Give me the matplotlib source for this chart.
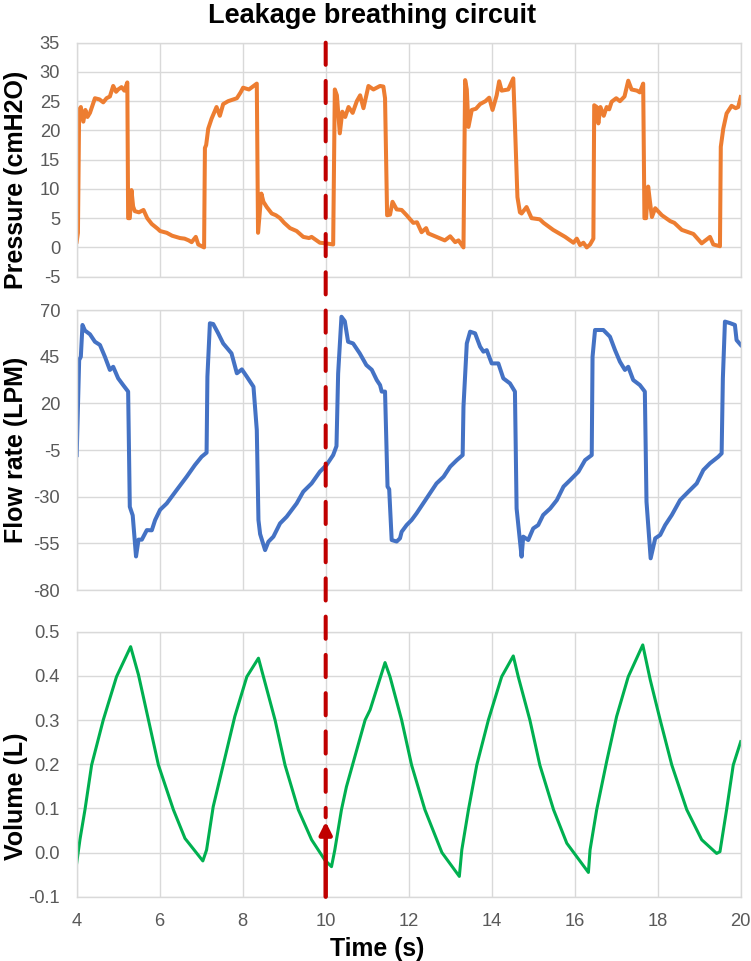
import matplotlib.pyplot as plt
from matplotlib.patches import ConnectionPatch

plt.rcParams['font.family'] = ['Liberation Sans', 'DejaVu Sans']
plt.rcParams['axes.unicode_minus'] = False

# pressure (cmH2O)
p_time = [4.00, 4.03, 4.06, 4.10, 4.16, 4.21, 4.26, 4.32, 4.44, 4.55, 4.64, 4.72, 4.80, 4.88, 4.95,
          5.00, 5.08, 5.15, 5.22, 5.24, 5.28, 5.32, 5.36, 5.40, 5.50, 5.61, 5.70, 5.81, 5.95, 6.01,
          6.17, 6.30, 6.49, 6.60, 6.70, 6.77, 6.87, 6.93, 7.07, 7.09, 7.12, 7.17, 7.25, 7.37, 7.45,
          7.53, 7.65, 7.86, 7.95, 8.01, 8.15, 8.34, 8.37, 8.40, 8.45, 8.50, 8.58, 8.70, 8.80, 8.90,
          9.00, 9.14, 9.30, 9.46, 9.60, 9.66, 9.86, 10.00, 10.18, 10.22, 10.27, 10.34, 10.40, 10.47,
          10.55, 10.65, 10.75, 10.83, 10.91, 11.03, 11.15, 11.31, 11.39, 11.43, 11.48, 11.55, 11.61,
          11.71, 11.83, 11.95, 12.11, 12.20, 12.31, 12.42, 12.47, 12.67, 12.87, 13.00, 13.12, 13.20,
          13.32, 13.36, 13.40, 13.44, 13.52, 13.62, 13.72, 13.85, 13.94, 14.02, 14.12, 14.18, 14.24,
          14.40, 14.52, 14.56, 14.62, 14.68, 14.72, 14.84, 14.96, 15.16, 15.25, 15.48, 15.77, 15.97,
          16.05, 16.13, 16.21, 16.29, 16.37, 16.45, 16.47, 16.53, 16.57, 16.62, 16.70, 16.77, 16.83,
          16.89, 17.00, 17.09, 17.20, 17.29, 17.37, 17.50, 17.57, 17.65, 17.68, 17.72, 17.77, 17.81,
          17.86, 17.94, 18.10, 18.30, 18.40, 18.58, 18.86, 19.06, 19.15, 19.26, 19.34, 19.50, 19.52,
          19.58, 19.66, 19.78, 19.88, 19.94, 20.00]
pressure = [1.0, 2.5, 23.5, 24.0, 21.5, 23.5, 22.3, 23.0, 25.5, 25.3, 24.8, 25.5, 25.8, 27.6, 26.6,
            27.0, 27.4, 26.8, 28.2, 5.0, 5.0, 9.8, 7.0, 6.2, 6.0, 6.4, 5.0, 4.0, 3.2, 2.8,
            2.5, 2.0, 1.6, 1.5, 1.2, 0.9, 1.8, 0.5, 0.0, 17.0, 17.5, 20.3, 22.0, 24.0, 22.5,
            24.5, 25.0, 25.5, 26.5, 27.3, 27.0, 28.0, 2.5, 5.0, 9.2, 7.8, 6.9, 5.8, 5.5, 5.0,
            4.2, 3.3, 2.8, 1.8, 1.6, 1.8, 0.8, 0.7, 0.5, 27.0, 26.0, 19.5, 23.2, 22.3,
            24.0, 23.0, 25.0, 26.0, 23.8, 27.6, 27.0, 27.6, 27.5, 25.5, 5.5, 5.6, 7.8,
            6.5, 6.4, 5.5, 4.2, 4.3, 2.6, 3.3, 2.4, 1.8, 1.2, 1.9, 0.9, 1.2,
            0.0, 28.6, 27.0, 20.6, 23.5, 23.7, 24.5, 25.0, 25.6, 23.5, 26.0, 28.4, 26.8,
            27.0, 28.9, 21.0, 8.6, 6.0, 5.8, 6.9, 5.0, 4.8, 4.2, 3.0, 1.8, 0.8,
            1.5, 0.4, 0.8, 0.0, 0.5, 1.5, 24.3, 24.0, 21.2, 24.0, 22.5, 24.0, 23.6,
            24.9, 25.5, 25.0, 25.8, 28.5, 27.0, 26.8, 26.5, 28.0, 5.0, 5.0, 10.4, 8.0,
            5.2, 6.7, 5.5, 4.5, 4.2, 3.0, 2.3, 0.7, 1.2, 1.8, 0.5, 0.2, 17.2,
            20.3, 22.9, 24.2, 23.8, 24.0, 25.7]

# flow rate (LPM)
f_time = [4.00, 4.06, 4.10, 4.14, 4.20, 4.32, 4.44, 4.56, 4.68, 4.80, 4.88, 5.00, 5.12, 5.24,
          5.28, 5.35, 5.43, 5.49, 5.57, 5.69, 5.81, 5.89, 6.01, 6.17, 6.41, 6.65, 6.85, 7.01,
          7.13, 7.15, 7.21, 7.29, 7.41, 7.53, 7.73, 7.86, 7.98, 8.10, 8.26, 8.34, 8.38, 8.42,
          8.54, 8.62, 8.74, 8.90, 9.06, 9.30, 9.46, 9.66, 9.86, 10.02, 10.18, 10.26, 10.30,
          10.38, 10.46, 10.54, 10.66, 10.82, 10.98, 11.11, 11.23, 11.31, 11.35, 11.43, 11.49,
          11.53, 11.59, 11.71, 11.79, 11.83, 11.95, 12.07, 12.19, 12.35, 12.51, 12.67, 12.84,
          13.00, 13.16, 13.30, 13.32, 13.40, 13.48, 13.60, 13.72, 13.80, 13.88, 14.00, 14.16,
          14.28, 14.44, 14.56, 14.60, 14.72, 14.76, 14.88, 15.00, 15.12, 15.24, 15.41, 15.57,
          15.73, 15.89, 16.09, 16.25, 16.41, 16.43, 16.49, 16.69, 16.85, 16.97, 17.09, 17.21,
          17.29, 17.41, 17.57, 17.69, 17.73, 17.83, 17.94, 18.06, 18.18, 18.34, 18.54, 18.74,
          18.94, 19.10, 19.26, 19.46, 19.54, 19.57, 19.62, 19.74, 19.86, 19.90, 20.00]
flow = [-7.7, 43.2, 45.0, 62.0, 59.0, 57.0, 53.0, 51.3, 45.0, 37.9, 39.6, 33.4, 29.8, 26.3,
        -35.4, -40.0, -62.0, -53.0, -53.0, -47.9, -48.0, -42.5, -37.0, -33.6, -26.4, -19.3, -13.0, -8.6,
        -6.4, 34.3, 62.9, 62.5, 57.5, 52.1, 46.8, 36.1, 38.2, 34.3, 28.9, 5.7, -42.5, -50.0,
        -58.6, -54.1, -51.4, -44.3, -40.7, -33.6, -27.3, -22.9, -16.6, -13.0, -7.7, -2.9, 36.0,
        66.4, 64.0, 53.0, 52.1, 46.8, 40.5, 38.0, 32.5, 29.8, 26.3, 26.3, -24.6,
        -26.0, -53.2, -54.0, -52.3, -48.8, -45.2, -42.5, -38.9, -33.6, -28.2, -22.9, -19.3,
        -13.9, -10.4, -7.7, 18.2, 52.1, 58.4, 57.5, 50.4, 47.7, 48.5, 41.4, 41.4,
        33.4, 30.7, 26.3, -36.3, -62.1, -51.4, -53.2, -47.0, -45.2, -39.8, -36.3, -31.8,
        -24.6, -21.1, -16.6, -10.4, -7.7, 45.0, 59.3, 59.3, 55.7, 48.6, 42.3, 37.9,
        39.6, 32.5, 29.8, 26.3, -32.7, -63.0, -52.3, -50.5, -45.2, -39.8, -31.8, -27.3,
        -22.9, -15.7, -12.1, -8.6, -6.8, 33.4, 63.8, 63.0, 62.0, 53.9, 51.3]

# volume (L)
v_time = [4.00, 4.08, 4.20, 4.36, 4.64, 4.96, 5.30, 5.49, 5.73, 5.97, 6.33, 6.61, 7.04, 7.13,
          7.29, 7.53, 7.81, 8.10, 8.38, 8.50, 8.78, 9.02, 9.34, 9.66, 9.98, 10.14, 10.22, 10.38,
          10.50, 10.95, 11.07, 11.43, 11.55, 11.83, 12.07, 12.39, 12.80, 13.22, 13.28, 13.44,
          13.64, 13.92, 14.24, 14.52, 14.64, 14.92, 15.16, 15.49, 15.81, 16.33, 16.37, 16.53,
          16.77, 17.01, 17.29, 17.64, 17.82, 18.06, 18.34, 18.70, 19.06, 19.42, 19.50, 19.66,
          19.82, 20.00]
volume = [-0.024, 0.03, 0.097, 0.198, 0.300, 0.398, 0.466, 0.402, 0.300, 0.198, 0.097, 0.032,
          -0.019, 0.006, 0.104, 0.198, 0.308, 0.398, 0.440, 0.398, 0.300, 0.198, 0.097, 0.029,
          -0.017, -0.032, 0.006, 0.097, 0.149, 0.300, 0.323, 0.430, 0.398, 0.300, 0.198, 0.097,
          0.0, -0.054, 0.006, 0.097, 0.198, 0.300, 0.398, 0.445, 0.398, 0.300, 0.198, 0.097,
          0.021, -0.045, 0.006, 0.097, 0.206, 0.308, 0.398, 0.470, 0.391, 0.300, 0.198, 0.097,
          0.029, -0.002, 0.002, 0.097, 0.198, 0.251]

x_ticks = [4, 6, 8, 10, 12, 14, 16, 18, 20]
p_ticks = [-5, 0, 5, 10, 15, 20, 25, 30, 35]
f_ticks = [-80, -55, -30, -5, 20, 45, 70]
v_ticks = [-0.1, 0.0, 0.1, 0.2, 0.3, 0.4, 0.5]
event_time = 10

fig = plt.figure(figsize=(7.51, 9.61), dpi=100)
ax1 = fig.add_axes([0.1021, 0.7121, 0.8842, 0.2435])
ax2 = fig.add_axes([0.1021, 0.3860, 0.8842, 0.2914])
ax3 = fig.add_axes([0.1021, 0.0669, 0.8842, 0.2758])

ax1.plot(p_time, pressure, color='#ED7D31', lw=2.9, solid_joinstyle='round')
ax2.plot(f_time, flow, color='#4472C4', lw=2.9, solid_joinstyle='round')
ax3.plot(v_time, volume, color='#00B050', lw=2.2, solid_joinstyle='round')

settings = [(ax1, p_ticks, 'Pressure (cmH2O)', 0.413, None),
            (ax2, f_ticks, 'Flow rate (LPM)', 0.5, None),
            (ax3, v_ticks, 'Volume (L)', 0.38, '{:.1f}')]
for ax, yt, lab, ly, fmt in settings:
    ax.set_xlim(4, 20)
    ax.set_ylim(yt[0], yt[-1])
    ax.set_xticks(x_ticks)
    ax.set_yticks(yt)
    if fmt:
        ax.set_yticklabels([fmt.format(v) for v in yt])
    ax.grid(True, color='#D9D9D9', lw=1)
    ax.set_axisbelow(True)
    for s in ax.spines.values():
        s.set_color('#D9D9D9')
        s.set_linewidth(1)
    ax.tick_params(length=0, labelsize=13.2, labelcolor='#595959')
    ax.tick_params(axis='y', pad=12)
    ax.tick_params(axis='x', pad=12)
    ax.set_ylabel(lab, fontsize=18, fontweight='bold')
    ax.yaxis.set_label_coords(-0.073, ly)
    if ax is not ax3:
        ax.tick_params(labelbottom=False)

fig.text(0.495, 1 - 22.7 / 961, 'Leakage breathing circuit', ha='center', va='baseline',
         fontsize=19.5, fontweight='bold')
fig.text(0.502, 1 - 956 / 961, 'Time (s)', ha='center', va='baseline',
         fontsize=17.8, fontweight='bold')

# dashed marker line through all panels
con = ConnectionPatch(xyA=(event_time, p_ticks[-1]), coordsA=ax1.transData,
                      xyB=(event_time, 0.08), coordsB=ax3.transData,
                      color='#C00000', lw=2.9, linestyle=(0, (5.5, 4)), zorder=5)
fig.add_artist(con)
ax3.annotate('', xy=(event_time, 0.07), xytext=(event_time, v_ticks[0]),
             arrowprops=dict(arrowstyle='-|>', color='#C00000', lw=3.2, mutation_scale=18,
                             shrinkA=0, shrinkB=0), annotation_clip=False, zorder=6)

fig.savefig('out.png', dpi=100)
